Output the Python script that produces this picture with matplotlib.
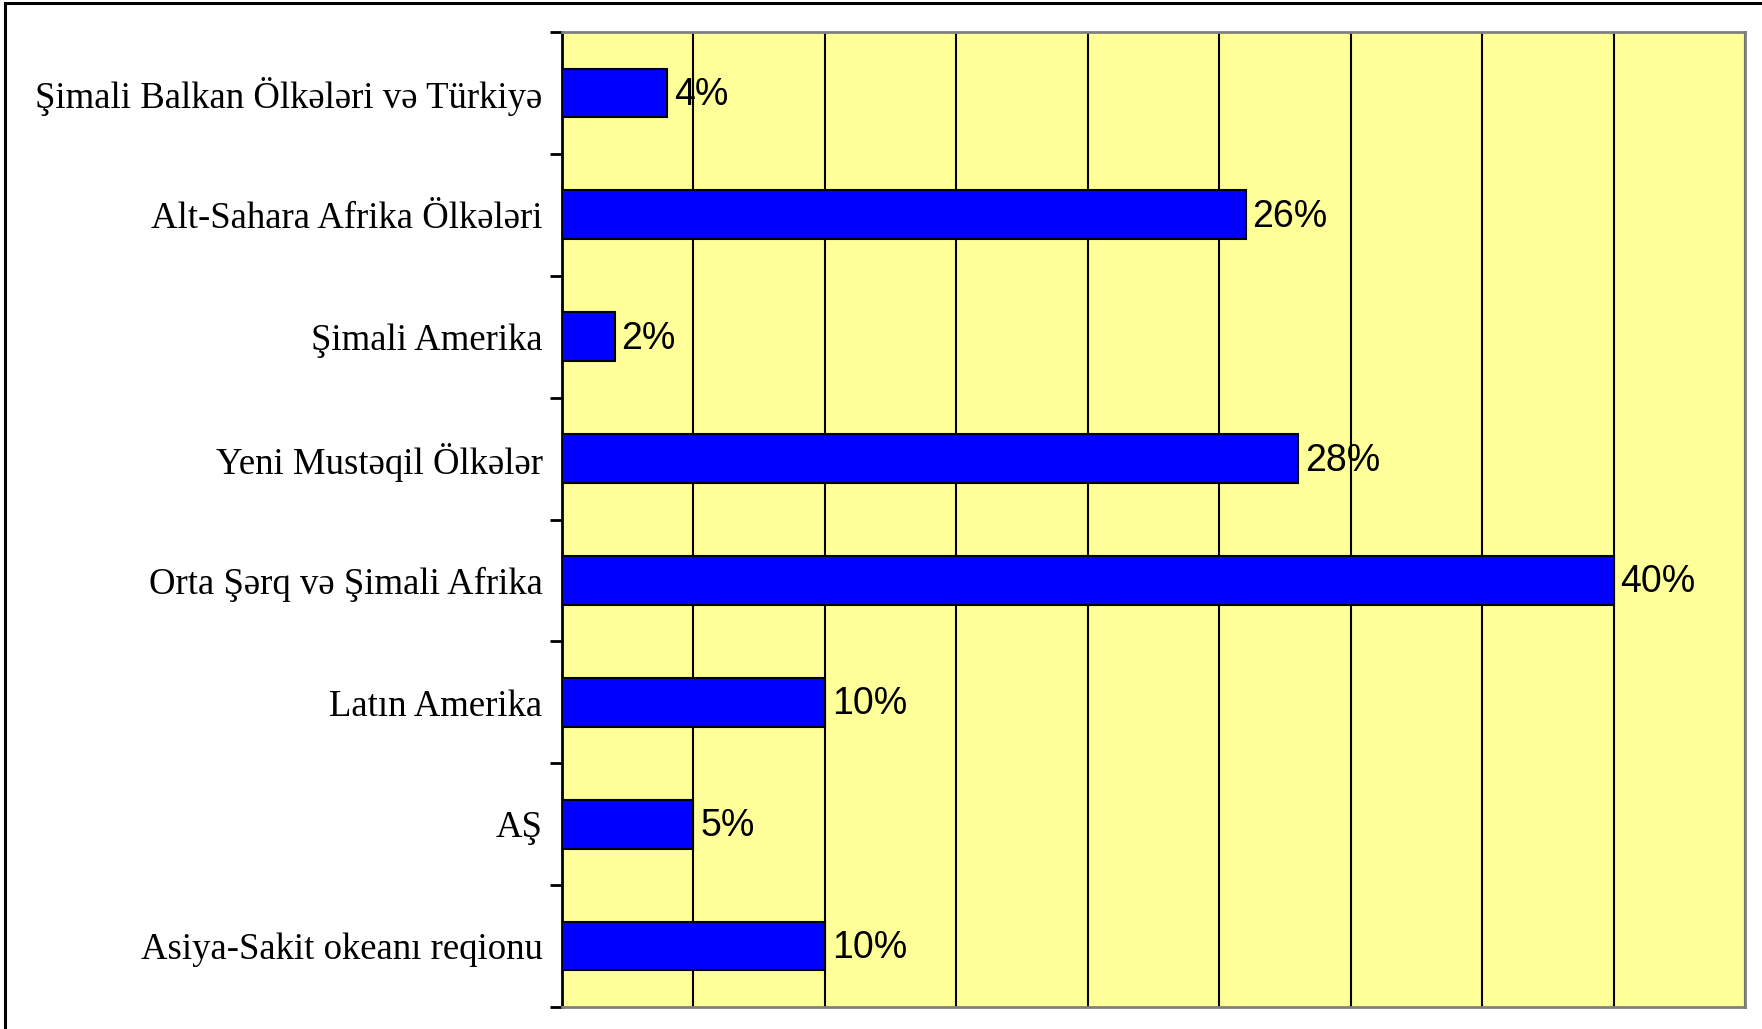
import matplotlib
matplotlib.use("Agg")
import matplotlib.pyplot as plt
from matplotlib.patches import Rectangle
import numpy as np

# regions and their shares (%), top to bottom
regions = [
    "Şimali Balkan Ölkələri və Türkiyə",
    "Alt-Sahara Afrika Ölkələri",
    "Şimali Amerika",
    "Yeni Mustəqil Ölkələr",
    "Orta Şərq və Şimali Afrika",
    "Latın Amerika",
    "AŞ",
    "Asiya-Sakit okeanı reqionu",
]
shares = [4, 26, 2, 28, 40, 10, 5, 10]
value_labels = ["4%", "26%", "2%", "28%", "40%", "10%", "5%", "10%"]

W, H = 1762, 1029
fig = plt.figure(figsize=(W / 100, H / 100), dpi=100)
fig.patch.set_facecolor("white")

# outer frame (only left and top edges visible in the picture)
fig.patches.append(Rectangle((5 / W, -0.05), 1.2, 1.05 - 3 / H,
                             transform=fig.transFigure, fill=False,
                             edgecolor="black", linewidth=2.2))

ax = fig.add_axes([562 / W, 22 / H, (1745 - 562) / W, (1029 - 22 - 32) / H])
ax.set_facecolor("#FFFF99")

y = np.arange(len(regions))
ax.barh(y, shares, height=0.4, color="#0000FF", edgecolor="black",
        linewidth=1.5, zorder=3)

ax.set_xlim(0, 45)
ax.set_ylim(len(regions) - 0.5, -0.5)
ax.set_xticks(np.arange(0, 46, 5))
ax.xaxis.grid(True, color="black", linewidth=1.5, zorder=1)
ax.set_axisbelow(True)
ax.tick_params(axis="x", length=0, labelbottom=False)

# category ticks sit on the boundaries, labels in the middle
ax.set_yticks(np.arange(len(regions) + 1) - 0.5)
ax.set_yticklabels([])
ax.set_yticks(y, minor=True)
ax.set_yticklabels(regions, minor=True, family="Liberation Serif",
                   fontsize=26.5)
ax.tick_params(axis="y", which="major", length=9, width=2, color="black")
ax.tick_params(axis="y", which="minor", length=0, pad=14)

for side in ["top", "right", "bottom"]:
    ax.spines[side].set_color("#808080")
    ax.spines[side].set_linewidth(2)
ax.spines["left"].set_color("black")
ax.spines["left"].set_linewidth(2)

for yi, v, lab in zip(y, shares, value_labels):
    ax.annotate(lab, (v, yi), xytext=(7, -2), textcoords="offset pixels",
                va="center", ha="left", family="Liberation Sans",
                fontsize=27, color="black", zorder=4)

plt.savefig("out.png", dpi=100, facecolor=fig.get_facecolor())
